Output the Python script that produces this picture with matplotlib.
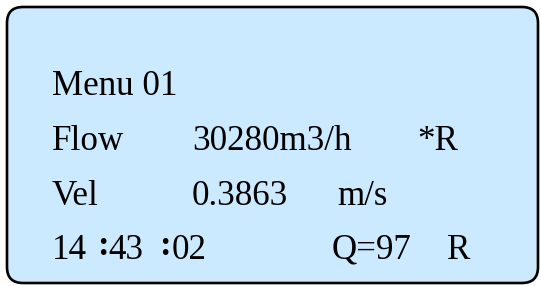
"""LCD-style flow meter display panel (Menu 01)."""
import matplotlib
matplotlib.use("Agg")
import matplotlib.pyplot as plt
from matplotlib.patches import FancyBboxPatch

# display content, one entry per row
LABELS = ["Menu 01", "Flow", "Vel", "14 :43 :02"]
VALUES = ["", "30280m3/h", "0.3863", ""]
UNITS = ["", "*R", "m/s", "Q=97"]
FLAGS = ["", "", "", "R"]

# layout in pixels (origin top-left)
W, H = 541, 286
BASELINES = [95, 150, 205, 259]
X_LABEL = 52
X_VALUE = 192
X_UNIT = [0, 417, 337, 332]
X_FLAG = 447
X_TIME_PARTS = [52, 108, 172]     # digits of the clock row
X_TIME_COLONS = [97, 159]          # raised colons between them
COLON_RAISE = 4
FONT_SIZE = 25.2
PANEL_FILL = "#cceaff"
PAD = 16

fig = plt.figure(figsize=(W / 100, H / 100), dpi=100)
ax = fig.add_axes([0, 0, 1, 1])
ax.set_xlim(0, W)
ax.set_ylim(H, 0)
ax.axis("off")

left, top, right, bottom = 7, 7, 538, 283
panel = FancyBboxPatch(
    (left + PAD, top + PAD), right - left - 2 * PAD, bottom - top - 2 * PAD,
    boxstyle=f"round,pad={PAD}", facecolor=PANEL_FILL, edgecolor="black", linewidth=1.9,
)
ax.add_patch(panel)

font = dict(family="Liberation Serif", fontsize=FONT_SIZE, color="black", va="baseline")
for i, base in enumerate(BASELINES):
    label = LABELS[i]
    if ":" in label:
        parts = [p.strip() for p in label.split(":")]
        for x, part in zip(X_TIME_PARTS, parts):
            ax.text(x, base, part, **font)
        for x in X_TIME_COLONS:
            ax.text(x, base - COLON_RAISE, ":", fontweight="bold", **font)
    else:
        ax.text(X_LABEL, base, label, **font)
    if VALUES[i]:
        ax.text(X_VALUE, base, VALUES[i], **font)
    if UNITS[i]:
        ax.text(X_UNIT[i], base, UNITS[i], **font)
    if FLAGS[i]:
        ax.text(X_FLAG, base, FLAGS[i], **font)

fig.savefig("out.png", dpi=100, facecolor="white")
